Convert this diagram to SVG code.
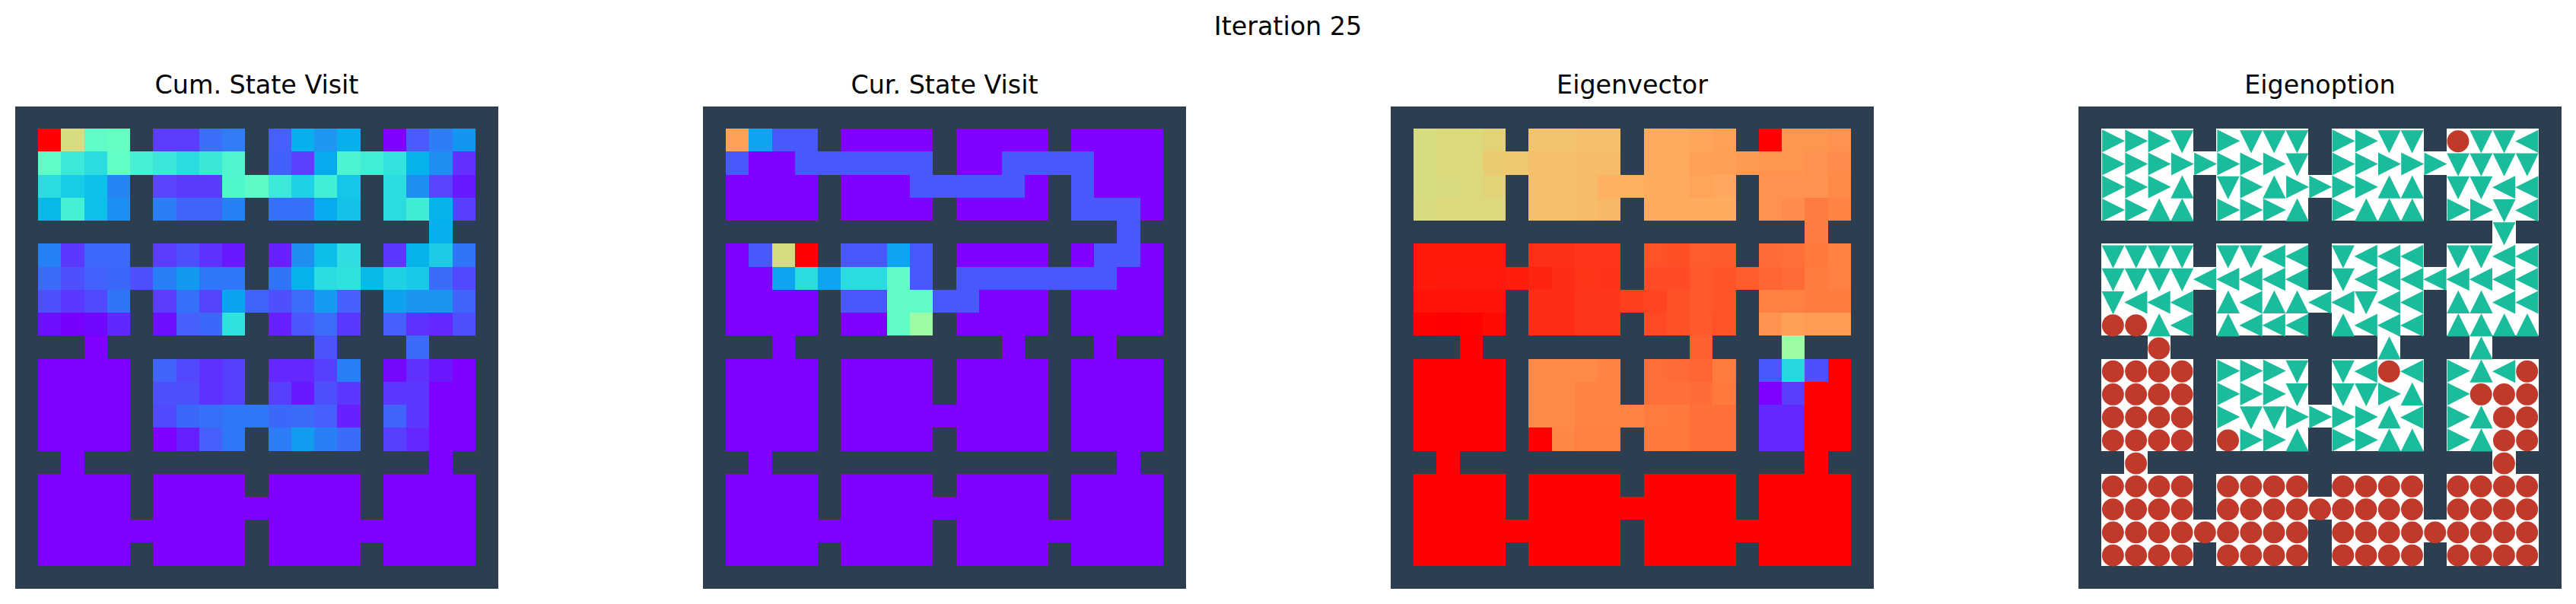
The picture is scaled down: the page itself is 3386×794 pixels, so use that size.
<svg xmlns="http://www.w3.org/2000/svg" width="3386" height="794" viewBox="0 0 3386 794">
<style>
text{font-family:"DejaVu Sans",sans-serif;font-size:33.33px;fill:#000;text-anchor:middle}
.wall{fill:#2c3e50}
.cells path,.cells use{shape-rendering:crispEdges}
.cells path{fill:none;stroke-width:1}
.mk{fill:#1abc9c}
.ci{fill:#c0392b}
</style>
<defs>
<path id="rooms" d="M1 1h4v4h-4zM6 1h4v4h-4zM11 1h4v4h-4zM16 1h4v4h-4zM1 6h4v4h-4zM6 6h4v4h-4zM11 6h4v4h-4zM16 6h4v4h-4zM1 11h4v4h-4zM6 11h4v4h-4zM11 11h4v4h-4zM16 11h4v4h-4zM1 16h4v4h-4zM6 16h4v4h-4zM11 16h4v4h-4zM16 16h4v4h-4zM5 2h1v1h-1zM10 3h1v1h-1zM15 2h1v1h-1zM18 5h1v1h-1zM5 7h1v1h-1zM10 8h1v1h-1zM15 7h1v1h-1zM3 10h1v1h-1zM13 10h1v1h-1zM17 10h1v1h-1zM10 13h1v1h-1zM2 15h1v1h-1zM18 15h1v1h-1zM10 17h1v1h-1zM5 18h1v1h-1zM15 18h1v1h-1z"/>
<path id="R" class="mk" d="M.03 .04L1.02 .53L.03 1.03z"/>
<path id="D" class="mk" d="M.01 .07H1L.505 1.07z"/>
<path id="U" class="mk" d="M.51 .03L1.01 1.03H.01z"/>
<path id="L" class="mk" d="M.99 .05V1.05L-.01 .55z"/>
<circle id="O" class="ci" cx=".5" cy=".55" r=".478"/>
</defs>
<text id="suptitle" x="1693" y="46">Iteration 25</text>

<g id="panel-cum-state-visit">
<text x="337.5" y="123">Cum. State Visit</text>
<rect class="wall" x="20" y="140" width="635" height="634"/>
<g class="cells" transform="translate(20 138.9) scale(30.24)">
<use href="#rooms" fill="#8000ff"/>
<path stroke="#ff0000" d="M1 1.5h1"/><path stroke="#d6dc82" d="M2 1.5h1"/><path stroke="#60fdc8" d="M3 1.5h1"/><path stroke="#64ffc2" d="M4 1.5h1"/><path stroke="#5a3dff" d="M6 1.5h2"/><path stroke="#3b6ff9" d="M8 1.5h1"/><path stroke="#337cf8" d="M9 1.5h1"/><path stroke="#4560fc" d="M11 1.5h1"/><path stroke="#06b0ed" d="M12 1.5h1"/><path stroke="#1e96f2" d="M13 1.5h1"/><path stroke="#06b0ed" d="M14 1.5h1"/><path stroke="#8000ff" d="M16 1.5h1"/><path stroke="#4a5afd" d="M17 1.5h1"/><path stroke="#2e7df7" d="M18 1.5h1"/><path stroke="#1296f0" d="M19 1.5h1"/>
<path stroke="#60fcc8" d="M1 2.5h1"/><path stroke="#3ee8d8" d="M2 2.5h1"/><path stroke="#2adbe0" d="M3 2.5h1"/><path stroke="#60ffc6" d="M4 2.5h1"/><path stroke="#46efd4" d="M5 2.5h1"/><path stroke="#3ce6da" d="M6 2.5h1"/><path stroke="#2adbe0" d="M7 2.5h1"/><path stroke="#3ae8d8" d="M8 2.5h1"/><path stroke="#50f5ce" d="M9 2.5h1"/><path stroke="#4460fb" d="M11 2.5h1"/><path stroke="#5a40ff" d="M12 2.5h1"/><path stroke="#08aaee" d="M13 2.5h1"/><path stroke="#4ef4d0" d="M14 2.5h1"/><path stroke="#40eed6" d="M15 2.5h1"/><path stroke="#32e2dc" d="M16 2.5h1"/><path stroke="#04b2ec" d="M17 2.5h1"/><path stroke="#1f8ef3" d="M18 2.5h1"/><path stroke="#6430ff" d="M19 2.5h1"/>
<path stroke="#2adce0" d="M1 3.5h1"/><path stroke="#18cee6" d="M2 3.5h1"/><path stroke="#0cc0ea" d="M3 3.5h1"/><path stroke="#2486f4" d="M4 3.5h1"/><path stroke="#5a44fe" d="M6 3.5h1"/><path stroke="#5a3cff" d="M7 3.5h2"/><path stroke="#50f6cc" d="M9 3.5h1"/><path stroke="#5cfbc8" d="M10 3.5h1"/><path stroke="#3ce8da" d="M11 3.5h1"/><path stroke="#1cd0e6" d="M12 3.5h1"/><path stroke="#42efd4" d="M13 3.5h1"/><path stroke="#14c6e8" d="M14 3.5h1"/><path stroke="#2adce0" d="M16 3.5h1"/><path stroke="#1e8ef3" d="M17 3.5h1"/><path stroke="#5a44fe" d="M18 3.5h1"/><path stroke="#6a18ff" d="M19 3.5h1"/>
<path stroke="#06baea" d="M1 4.5h1"/><path stroke="#46f0d4" d="M2 4.5h1"/><path stroke="#0cc0ea" d="M3 4.5h1"/><path stroke="#1c90f4" d="M4 4.5h1"/><path stroke="#2c7df8" d="M6 4.5h1"/><path stroke="#4264fb" d="M7 4.5h2"/><path stroke="#2482f6" d="M9 4.5h1"/><path stroke="#3570f9" d="M11 4.5h2"/><path stroke="#08aaee" d="M13 4.5h1"/><path stroke="#14c2e8" d="M14 4.5h1"/><path stroke="#2adce0" d="M16 4.5h1"/><path stroke="#40ecd6" d="M17 4.5h1"/><path stroke="#06b4ec" d="M18 4.5h1"/><path stroke="#5840fe" d="M19 4.5h1"/>
<path stroke="#06b0ee" d="M18 5.5h1"/>
<path stroke="#2482f6" d="M1 6.5h1"/><path stroke="#5c38ff" d="M2 6.5h1"/><path stroke="#3e68fa" d="M3 6.5h2"/><path stroke="#5c3cff" d="M6 6.5h1"/><path stroke="#4e50fd" d="M7 6.5h1"/><path stroke="#6030ff" d="M8 6.5h1"/><path stroke="#6a18ff" d="M9 6.5h1"/><path stroke="#6820ff" d="M11 6.5h1"/><path stroke="#1e8ef3" d="M12 6.5h1"/><path stroke="#0cbeea" d="M13 6.5h1"/><path stroke="#2edee0" d="M14 6.5h1"/><path stroke="#5c38ff" d="M16 6.5h1"/><path stroke="#06b2ec" d="M17 6.5h1"/><path stroke="#1ccce6" d="M18 6.5h1"/><path stroke="#3074f8" d="M19 6.5h1"/>
<path stroke="#3a6cf9" d="M1 7.5h1"/><path stroke="#4e50fd" d="M2 7.5h1"/><path stroke="#4262fb" d="M3 7.5h1"/><path stroke="#3c68fa" d="M4 7.5h1"/><path stroke="#4e50fd" d="M5 7.5h1"/><path stroke="#2880f6" d="M6 7.5h1"/><path stroke="#129af0" d="M7 7.5h1"/><path stroke="#3076f8" d="M8 7.5h2"/><path stroke="#3074f8" d="M11 7.5h1"/><path stroke="#04b2ec" d="M12 7.5h1"/><path stroke="#2adee0" d="M13 7.5h1"/><path stroke="#30e2de" d="M14 7.5h1"/><path stroke="#08baea" d="M15 7.5h1"/><path stroke="#1cd2e4" d="M16 7.5h1"/><path stroke="#18cae6" d="M17 7.5h1"/><path stroke="#3a6cf9" d="M18 7.5h1"/><path stroke="#5248fd" d="M19 7.5h1"/>
<path stroke="#4e50fd" d="M1 8.5h1"/><path stroke="#5c38ff" d="M2 8.5h1"/><path stroke="#5248fd" d="M3 8.5h1"/><path stroke="#3074f8" d="M4 8.5h1"/><path stroke="#5c3cff" d="M6 8.5h1"/><path stroke="#3470f8" d="M7 8.5h1"/><path stroke="#5444fe" d="M8 8.5h1"/><path stroke="#0ca4ee" d="M9 8.5h1"/><path stroke="#4264fb" d="M10 8.5h1"/><path stroke="#4e50fd" d="M11 8.5h1"/><path stroke="#3c6cfa" d="M12 8.5h1"/><path stroke="#149cf0" d="M13 8.5h1"/><path stroke="#4660fc" d="M14 8.5h1"/><path stroke="#0ea2ef" d="M16 8.5h1"/><path stroke="#1a96f1" d="M17 8.5h2"/><path stroke="#4264fb" d="M19 8.5h1"/>
<path stroke="#6c10ff" d="M1 9.5h1"/><path stroke="#7800ff" d="M2 9.5h1"/><path stroke="#7008ff" d="M3 9.5h1"/><path stroke="#6028ff" d="M4 9.5h1"/><path stroke="#6c10ff" d="M6 9.5h1"/><path stroke="#4660fc" d="M7 9.5h1"/><path stroke="#3c68fa" d="M8 9.5h1"/><path stroke="#30e2de" d="M9 9.5h1"/><path stroke="#6820ff" d="M11 9.5h1"/><path stroke="#4c58fc" d="M12 9.5h1"/><path stroke="#3c6cfa" d="M13 9.5h1"/><path stroke="#5a38ff" d="M14 9.5h1"/><path stroke="#4660fc" d="M16 9.5h1"/><path stroke="#6030ff" d="M17 9.5h1"/><path stroke="#6428ff" d="M18 9.5h1"/><path stroke="#4e50fd" d="M19 9.5h1"/>
<path stroke="#4c54fd" d="M13 10.5h1"/><path stroke="#3a6cf9" d="M17 10.5h1"/>
<path stroke="#4264fb" d="M6 11.5h1"/><path stroke="#5248fd" d="M7 11.5h1"/><path stroke="#6030ff" d="M8 11.5h1"/><path stroke="#5640fe" d="M9 11.5h1"/><path stroke="#6428ff" d="M11 11.5h2"/><path stroke="#5640fe" d="M13 11.5h1"/><path stroke="#2880f6" d="M14 11.5h1"/><path stroke="#7408ff" d="M16 11.5h1"/><path stroke="#6030ff" d="M17 11.5h1"/><path stroke="#6c18ff" d="M18 11.5h1"/>
<path stroke="#4e50fd" d="M6 12.5h2"/><path stroke="#6030ff" d="M8 12.5h1"/><path stroke="#5640fe" d="M9 12.5h1"/><path stroke="#5640fe" d="M11 12.5h1"/><path stroke="#6a18ff" d="M12 12.5h1"/><path stroke="#4e50fd" d="M13 12.5h1"/><path stroke="#5c38ff" d="M14 12.5h1"/><path stroke="#5c38ff" d="M16 12.5h2"/>
<path stroke="#5248fd" d="M6 13.5h1"/><path stroke="#3c68fa" d="M7 13.5h1"/><path stroke="#3670f9" d="M8 13.5h1"/><path stroke="#3076f8" d="M9 13.5h2"/><path stroke="#3c68fa" d="M11 13.5h1"/><path stroke="#3a6cf9" d="M12 13.5h1"/><path stroke="#4660fc" d="M13 13.5h1"/><path stroke="#6820ff" d="M14 13.5h1"/><path stroke="#4264fb" d="M16 13.5h1"/><path stroke="#5c38ff" d="M17 13.5h1"/>
<path stroke="#6420ff" d="M7 14.5h1"/><path stroke="#4660fc" d="M8 14.5h1"/><path stroke="#3076f8" d="M9 14.5h1"/><path stroke="#2c7cf8" d="M11 14.5h1"/><path stroke="#129cf0" d="M12 14.5h1"/><path stroke="#2880f6" d="M13 14.5h1"/><path stroke="#3a6cf9" d="M14 14.5h1"/><path stroke="#5640fe" d="M16 14.5h1"/><path stroke="#6428ff" d="M17 14.5h1"/>
</g>
</g>

<g id="panel-cur-state-visit">
<text x="1241.5" y="123">Cur. State Visit</text>
<rect class="wall" x="924" y="140" width="635" height="634"/>
<g class="cells" transform="translate(924 138.9) scale(30.24)">
<use href="#rooms" fill="#8000ff"/>
<path stroke="#ffa256" d="M1 1.5h1"/><path stroke="#0ea4f0" d="M2 1.5h1"/>
<path stroke="#4858fc" d="M3 1.5h2M1 2.5h1M4 2.5h6M13 2.5h4M9 3.5h5M16 3.5h1M16 4.5h3M18 5.5h1M2 6.5h1M6 6.5h2M9 6.5h1M17 6.5h2M9 7.5h1M11 7.5h7M6 8.5h2M10 8.5h2"/>
<path stroke="#d6dc82" d="M3 6.5h1"/><path stroke="#ff0000" d="M4 6.5h1"/><path stroke="#0ea4f0" d="M8 6.5h1M3 7.5h1M5 7.5h1"/>
<path stroke="#2adce0" d="M4 7.5h1M6 7.5h2"/><path stroke="#62fdc6" d="M8 7.5h1M8 8.5h2M8 9.5h1"/><path stroke="#9cfba4" d="M9 9.5h1"/>
</g>
</g>

<g id="panel-eigenvector">
<text x="2145.5" y="123">Eigenvector</text>
<rect class="wall" x="1828" y="140" width="635" height="634"/>
<g class="cells" transform="translate(1828 138.9) scale(30.24)">
<use href="#rooms" fill="#ff0000"/>
<path stroke="#d6dc82" d="M1 1.5h1"/><path stroke="#dad97e" d="M2 1.5h1"/><path stroke="#dcd87c" d="M3 1.5h1"/><path stroke="#e2d278" d="M4 1.5h1"/><path stroke="#f2c46e" d="M6 1.5h2"/><path stroke="#f4c06c" d="M8 1.5h2"/><path stroke="#ffac5e" d="M11 1.5h1"/><path stroke="#ffaa5c" d="M12 1.5h1"/><path stroke="#ffa658" d="M13 1.5h1"/><path stroke="#ffa256" d="M14 1.5h1"/><path stroke="#ff9650" d="M17 1.5h2"/><path stroke="#ff924e" d="M19 1.5h1"/>
<path stroke="#d6dc82" d="M1 2.5h1"/><path stroke="#dad97e" d="M2 2.5h1"/><path stroke="#dcd87c" d="M3 2.5h1"/><path stroke="#ecca72" d="M4 2.5h1"/><path stroke="#eec870" d="M5 2.5h1"/><path stroke="#f4c06c" d="M6 2.5h2"/><path stroke="#f6bc6a" d="M8 2.5h2"/><path stroke="#ffac5e" d="M11 2.5h1"/><path stroke="#ffaa5c" d="M12 2.5h1"/><path stroke="#ffa256" d="M13 2.5h1"/><path stroke="#ffa055" d="M14 2.5h1"/><path stroke="#ff9a52" d="M15 2.5h1"/><path stroke="#ff9650" d="M16 2.5h2"/><path stroke="#ff924e" d="M18 2.5h1"/><path stroke="#ff8c4a" d="M19 2.5h1"/>
<path stroke="#d6dc82" d="M1 3.5h1"/><path stroke="#d8da80" d="M2 3.5h1"/><path stroke="#dcd87c" d="M3 3.5h1"/><path stroke="#e2d278" d="M4 3.5h1"/><path stroke="#f4c06c" d="M6 3.5h2"/><path stroke="#f6bc6a" d="M8 3.5h1"/><path stroke="#ffb060" d="M9 3.5h2"/><path stroke="#ffac5e" d="M11 3.5h1"/><path stroke="#ffaa5c" d="M12 3.5h1"/><path stroke="#ffa458" d="M13 3.5h1"/><path stroke="#ffa85e" d="M14 3.5h1"/><path stroke="#ff924e" d="M16 3.5h3"/><path stroke="#ff8a48" d="M19 3.5h1"/>
<path stroke="#d8da80" d="M1 4.5h1"/><path stroke="#dbd87d" d="M2 4.5h3"/><path stroke="#f4c06c" d="M6 4.5h2"/><path stroke="#f6bc6a" d="M8 4.5h1"/><path stroke="#f8b866" d="M9 4.5h1"/><path stroke="#ffac5e" d="M11 4.5h4"/><path stroke="#ff924e" d="M16 4.5h1"/><path stroke="#ff8c4a" d="M17 4.5h1"/><path stroke="#ff7c40" d="M18 4.5h1M18 5.5h1"/><path stroke="#ff8444" d="M19 4.5h1"/>
<path stroke="#ff1a0c" d="M1 6.5h4"/><path stroke="#ff3018" d="M6 6.5h2"/><path stroke="#ff341a" d="M8 6.5h2"/><path stroke="#ff5228" d="M11 6.5h1"/><path stroke="#ff4e26" d="M12 6.5h1"/><path stroke="#ff5c2e" d="M13 6.5h1"/><path stroke="#ff5a2c" d="M14 6.5h1"/><path stroke="#ff6c36" d="M16 6.5h1"/><path stroke="#ff7038" d="M17 6.5h1"/><path stroke="#ff783c" d="M18 6.5h1"/><path stroke="#ff8040" d="M19 6.5h1"/>
<path stroke="#ff1a0c" d="M1 7.5h1"/><path stroke="#ff180c" d="M2 7.5h3"/><path stroke="#ff1e0e" d="M5 7.5h1"/><path stroke="#ff240f" d="M6 7.5h1"/><path stroke="#ff2c16" d="M7 7.5h1"/><path stroke="#ff3418" d="M8 7.5h1"/><path stroke="#ff321a" d="M9 7.5h1"/><path stroke="#ff4c26" d="M11 7.5h2"/><path stroke="#ff582c" d="M13 7.5h1"/><path stroke="#ff542a" d="M14 7.5h1"/><path stroke="#ff5c2e" d="M15 7.5h1"/><path stroke="#ff6633" d="M16 7.5h1"/><path stroke="#ff6a35" d="M17 7.5h1"/><path stroke="#ff7c3e" d="M18 7.5h1"/><path stroke="#ff8040" d="M19 7.5h1"/>
<path stroke="#ff120a" d="M1 8.5h2"/><path stroke="#ff140a" d="M3 8.5h2"/><path stroke="#ff2c16" d="M6 8.5h2"/><path stroke="#ff361b" d="M8 8.5h2"/><path stroke="#ff401f" d="M10 8.5h1"/><path stroke="#ff4422" d="M11 8.5h1"/><path stroke="#ff5026" d="M12 8.5h1"/><path stroke="#ff582c" d="M13 8.5h1"/><path stroke="#ff542a" d="M14 8.5h1"/><path stroke="#ff8040" d="M16 8.5h2"/><path stroke="#ff7c3e" d="M18 8.5h2"/>
<path stroke="#ff0200" d="M1 9.5h1M3 9.5h1"/><path stroke="#ff0a04" d="M4 9.5h1"/><path stroke="#ff2c16" d="M6 9.5h2"/><path stroke="#ff361b" d="M8 9.5h2"/><path stroke="#ff4a25" d="M11 9.5h1"/><path stroke="#ff5026" d="M12 9.5h1"/><path stroke="#ff582c" d="M13 9.5h1"/><path stroke="#ff5229" d="M14 9.5h1"/><path stroke="#ff9450" d="M16 9.5h1"/><path stroke="#ffa055" d="M17 9.5h1"/><path stroke="#ff9c52" d="M18 9.5h2"/>
<path stroke="#ff602f" d="M13 10.5h1"/><path stroke="#9cfba4" d="M17 10.5h1"/>
<path stroke="#ff8a48" d="M6 11.5h3"/><path stroke="#ff8444" d="M9 11.5h1"/><path stroke="#ff6e38" d="M11 11.5h1"/><path stroke="#ff6a36" d="M12 11.5h1"/><path stroke="#ff6633" d="M13 11.5h1"/><path stroke="#ff7c3e" d="M14 11.5h1"/><path stroke="#4858fc" d="M16 11.5h1"/><path stroke="#26d8e0" d="M17 11.5h1"/><path stroke="#4e50fd" d="M18 11.5h1"/>
<path stroke="#ff8a48" d="M6 12.5h2"/><path stroke="#ff8444" d="M8 12.5h2"/><path stroke="#ff7038" d="M11 12.5h2"/><path stroke="#ff6c36" d="M13 12.5h1"/><path stroke="#ff783c" d="M14 12.5h1"/><path stroke="#8000ff" d="M16 12.5h1"/><path stroke="#5a3eff" d="M17 12.5h1"/>
<path stroke="#ff8a48" d="M6 13.5h2"/><path stroke="#ff8444" d="M8 13.5h3"/><path stroke="#ff7c3e" d="M11 13.5h1"/><path stroke="#ff783c" d="M12 13.5h1"/><path stroke="#ff7038" d="M13 13.5h2"/><path stroke="#6428ff" d="M16 13.5h2"/>
<path stroke="#ff8846" d="M7 14.5h1"/><path stroke="#ff8040" d="M8 14.5h2"/><path stroke="#ff783c" d="M11 14.5h2"/><path stroke="#ff7038" d="M13 14.5h2"/><path stroke="#6428ff" d="M16 14.5h2"/>
</g>
</g>

<g id="panel-eigenoption">
<text x="3049.5" y="123">Eigenoption</text>
<rect class="wall" x="2732" y="140" width="635" height="634"/>
<g class="cells" transform="translate(2732 138.9) scale(30.24)">
<use href="#rooms" fill="#ffffff"/>
</g>
<g transform="translate(2732 138.9) scale(30.24)">
<use href="#R" x="1" y="1"/><use href="#R" x="2" y="1"/><use href="#R" x="3" y="1"/><use href="#D" x="4" y="1"/><use href="#R" x="6" y="1"/><use href="#D" x="7" y="1"/><use href="#D" x="8" y="1"/><use href="#D" x="9" y="1"/><use href="#R" x="11" y="1"/><use href="#R" x="12" y="1"/><use href="#D" x="13" y="1"/><use href="#D" x="14" y="1"/><use href="#O" x="16" y="1"/><use href="#D" x="17" y="1"/><use href="#D" x="18" y="1"/><use href="#L" x="19" y="1"/>
<use href="#R" x="1" y="2"/><use href="#R" x="2" y="2"/><use href="#R" x="3" y="2"/><use href="#R" x="4" y="2"/><use href="#R" x="5" y="2"/><use href="#R" x="6" y="2"/><use href="#R" x="7" y="2"/><use href="#R" x="8" y="2"/><use href="#D" x="9" y="2"/><use href="#R" x="11" y="2"/><use href="#R" x="12" y="2"/><use href="#R" x="13" y="2"/><use href="#R" x="14" y="2"/><use href="#R" x="15" y="2"/><use href="#D" x="16" y="2"/><use href="#D" x="17" y="2"/><use href="#D" x="18" y="2"/><use href="#D" x="19" y="2"/>
<use href="#R" x="1" y="3"/><use href="#R" x="2" y="3"/><use href="#R" x="3" y="3"/><use href="#U" x="4" y="3"/><use href="#D" x="6" y="3"/><use href="#R" x="7" y="3"/><use href="#U" x="8" y="3"/><use href="#R" x="9" y="3"/><use href="#R" x="10" y="3"/><use href="#R" x="11" y="3"/><use href="#R" x="12" y="3"/><use href="#U" x="13" y="3"/><use href="#U" x="14" y="3"/><use href="#D" x="16" y="3"/><use href="#D" x="17" y="3"/><use href="#L" x="18" y="3"/><use href="#L" x="19" y="3"/>
<use href="#R" x="1" y="4"/><use href="#R" x="2" y="4"/><use href="#U" x="3" y="4"/><use href="#U" x="4" y="4"/><use href="#R" x="6" y="4"/><use href="#R" x="7" y="4"/><use href="#R" x="8" y="4"/><use href="#U" x="9" y="4"/><use href="#R" x="11" y="4"/><use href="#U" x="12" y="4"/><use href="#U" x="13" y="4"/><use href="#U" x="14" y="4"/><use href="#R" x="16" y="4"/><use href="#R" x="17" y="4"/><use href="#D" x="18" y="4"/><use href="#L" x="19" y="4"/>
<use href="#D" x="18" y="5"/>
<use href="#D" x="1" y="6"/><use href="#D" x="2" y="6"/><use href="#D" x="3" y="6"/><use href="#D" x="4" y="6"/><use href="#D" x="6" y="6"/><use href="#D" x="7" y="6"/><use href="#L" x="8" y="6"/><use href="#L" x="9" y="6"/><use href="#D" x="11" y="6"/><use href="#L" x="12" y="6"/><use href="#L" x="13" y="6"/><use href="#L" x="14" y="6"/><use href="#D" x="16" y="6"/><use href="#D" x="17" y="6"/><use href="#L" x="18" y="6"/><use href="#L" x="19" y="6"/>
<use href="#D" x="1" y="7"/><use href="#D" x="2" y="7"/><use href="#D" x="3" y="7"/><use href="#D" x="4" y="7"/><use href="#L" x="5" y="7"/><use href="#L" x="6" y="7"/><use href="#L" x="7" y="7"/><use href="#L" x="8" y="7"/><use href="#L" x="9" y="7"/><use href="#D" x="11" y="7"/><use href="#L" x="12" y="7"/><use href="#L" x="13" y="7"/><use href="#L" x="14" y="7"/><use href="#L" x="15" y="7"/><use href="#L" x="16" y="7"/><use href="#L" x="17" y="7"/><use href="#L" x="18" y="7"/><use href="#L" x="19" y="7"/>
<use href="#D" x="1" y="8"/><use href="#L" x="2" y="8"/><use href="#L" x="3" y="8"/><use href="#L" x="4" y="8"/><use href="#U" x="6" y="8"/><use href="#L" x="7" y="8"/><use href="#U" x="8" y="8"/><use href="#U" x="9" y="8"/><use href="#L" x="10" y="8"/><use href="#L" x="11" y="8"/><use href="#D" x="12" y="8"/><use href="#L" x="13" y="8"/><use href="#L" x="14" y="8"/><use href="#U" x="16" y="8"/><use href="#U" x="17" y="8"/><use href="#L" x="18" y="8"/><use href="#L" x="19" y="8"/>
<use href="#O" x="1" y="9"/><use href="#O" x="2" y="9"/><use href="#U" x="3" y="9"/><use href="#L" x="4" y="9"/><use href="#U" x="6" y="9"/><use href="#L" x="7" y="9"/><use href="#L" x="8" y="9"/><use href="#L" x="9" y="9"/><use href="#U" x="11" y="9"/><use href="#L" x="12" y="9"/><use href="#L" x="13" y="9"/><use href="#L" x="14" y="9"/><use href="#U" x="16" y="9"/><use href="#U" x="17" y="9"/><use href="#U" x="18" y="9"/><use href="#U" x="19" y="9"/>
<use href="#O" x="3" y="10"/><use href="#U" x="13" y="10"/><use href="#U" x="17" y="10"/>
<use href="#O" x="1" y="11"/><use href="#O" x="2" y="11"/><use href="#O" x="3" y="11"/><use href="#O" x="4" y="11"/><use href="#R" x="6" y="11"/><use href="#R" x="7" y="11"/><use href="#R" x="8" y="11"/><use href="#D" x="9" y="11"/><use href="#D" x="11" y="11"/><use href="#L" x="12" y="11"/><use href="#O" x="13" y="11"/><use href="#L" x="14" y="11"/><use href="#R" x="16" y="11"/><use href="#U" x="17" y="11"/><use href="#L" x="18" y="11"/><use href="#O" x="19" y="11"/>
<use href="#O" x="1" y="12"/><use href="#O" x="2" y="12"/><use href="#O" x="3" y="12"/><use href="#O" x="4" y="12"/><use href="#R" x="6" y="12"/><use href="#R" x="7" y="12"/><use href="#R" x="8" y="12"/><use href="#D" x="9" y="12"/><use href="#D" x="11" y="12"/><use href="#D" x="12" y="12"/><use href="#R" x="13" y="12"/><use href="#U" x="14" y="12"/><use href="#R" x="16" y="12"/><use href="#O" x="17" y="12"/><use href="#O" x="18" y="12"/><use href="#O" x="19" y="12"/>
<use href="#O" x="1" y="13"/><use href="#O" x="2" y="13"/><use href="#O" x="3" y="13"/><use href="#O" x="4" y="13"/><use href="#R" x="6" y="13"/><use href="#D" x="7" y="13"/><use href="#D" x="8" y="13"/><use href="#R" x="9" y="13"/><use href="#R" x="10" y="13"/><use href="#R" x="11" y="13"/><use href="#R" x="12" y="13"/><use href="#U" x="13" y="13"/><use href="#L" x="14" y="13"/><use href="#R" x="16" y="13"/><use href="#U" x="17" y="13"/><use href="#O" x="18" y="13"/><use href="#O" x="19" y="13"/>
<use href="#O" x="1" y="14"/><use href="#O" x="2" y="14"/><use href="#O" x="3" y="14"/><use href="#O" x="4" y="14"/><use href="#O" x="6" y="14"/><use href="#R" x="7" y="14"/><use href="#R" x="8" y="14"/><use href="#U" x="9" y="14"/><use href="#R" x="11" y="14"/><use href="#R" x="12" y="14"/><use href="#U" x="13" y="14"/><use href="#U" x="14" y="14"/><use href="#R" x="16" y="14"/><use href="#U" x="17" y="14"/><use href="#O" x="18" y="14"/><use href="#O" x="19" y="14"/>
<use href="#O" x="2" y="15"/><use href="#O" x="18" y="15"/>
<use href="#O" x="1" y="16"/><use href="#O" x="2" y="16"/><use href="#O" x="3" y="16"/><use href="#O" x="4" y="16"/><use href="#O" x="6" y="16"/><use href="#O" x="7" y="16"/><use href="#O" x="8" y="16"/><use href="#O" x="9" y="16"/><use href="#O" x="11" y="16"/><use href="#O" x="12" y="16"/><use href="#O" x="13" y="16"/><use href="#O" x="14" y="16"/><use href="#O" x="16" y="16"/><use href="#O" x="17" y="16"/><use href="#O" x="18" y="16"/><use href="#O" x="19" y="16"/>
<use href="#O" x="1" y="17"/><use href="#O" x="2" y="17"/><use href="#O" x="3" y="17"/><use href="#O" x="4" y="17"/><use href="#O" x="6" y="17"/><use href="#O" x="7" y="17"/><use href="#O" x="8" y="17"/><use href="#O" x="9" y="17"/><use href="#O" x="10" y="17"/><use href="#O" x="11" y="17"/><use href="#O" x="12" y="17"/><use href="#O" x="13" y="17"/><use href="#O" x="14" y="17"/><use href="#O" x="16" y="17"/><use href="#O" x="17" y="17"/><use href="#O" x="18" y="17"/><use href="#O" x="19" y="17"/>
<use href="#O" x="1" y="18"/><use href="#O" x="2" y="18"/><use href="#O" x="3" y="18"/><use href="#O" x="4" y="18"/><use href="#O" x="5" y="18"/><use href="#O" x="6" y="18"/><use href="#O" x="7" y="18"/><use href="#O" x="8" y="18"/><use href="#O" x="9" y="18"/><use href="#O" x="11" y="18"/><use href="#O" x="12" y="18"/><use href="#O" x="13" y="18"/><use href="#O" x="14" y="18"/><use href="#O" x="15" y="18"/><use href="#O" x="16" y="18"/><use href="#O" x="17" y="18"/><use href="#O" x="18" y="18"/><use href="#O" x="19" y="18"/>
<use href="#O" x="1" y="19"/><use href="#O" x="2" y="19"/><use href="#O" x="3" y="19"/><use href="#O" x="4" y="19"/><use href="#O" x="6" y="19"/><use href="#O" x="7" y="19"/><use href="#O" x="8" y="19"/><use href="#O" x="9" y="19"/><use href="#O" x="11" y="19"/><use href="#O" x="12" y="19"/><use href="#O" x="13" y="19"/><use href="#O" x="14" y="19"/><use href="#O" x="16" y="19"/><use href="#O" x="17" y="19"/><use href="#O" x="18" y="19"/><use href="#O" x="19" y="19"/>
</g>
</g>
</svg>
